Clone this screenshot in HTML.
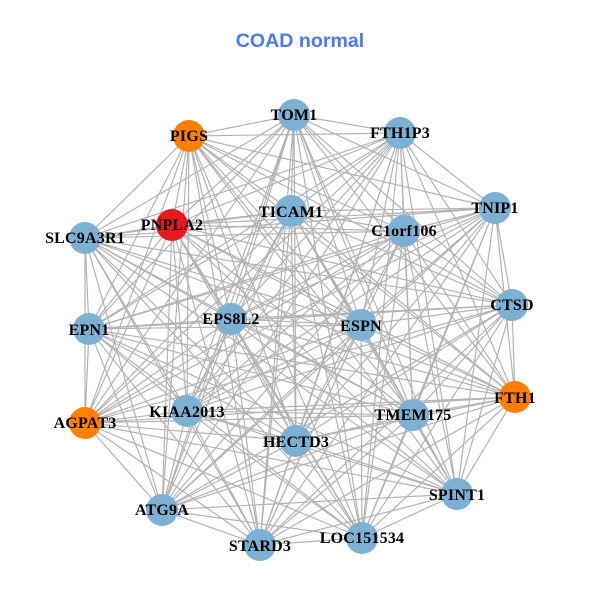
<!DOCTYPE html>
<html>
<head>
<meta charset="utf-8">
<style>
html,body{margin:0;padding:0;background:#fff;}
svg{display:block;}
.t{font-family:"Liberation Serif",serif;font-weight:bold;font-size:16px;letter-spacing:.2px;fill:#000;text-anchor:middle;}
.h{font-family:"Liberation Sans",sans-serif;font-weight:bold;font-size:19.6px;fill:#4c78f5;text-anchor:middle;}
</style>
</head>
<body>
<svg width="600" height="600" viewBox="0 0 600 600" xmlns="http://www.w3.org/2000/svg">
<rect width="600" height="600" fill="#fff"/>
<text class="h" x="300" y="47">COAD normal</text>
<g fill="none" stroke="#b3b3b3" stroke-width="1.2">
<polyline points="189,136 294,115 189,136 400,133 189,136 495,208 189,136 404,231 189,136 291,211 189,136 172,225 189,136 85,238 189,136 89,329 189,136 231,319 189,136 361,325 189,136 512,305 189,136 515,397 189,136 413,415 189,136 296,441 189,136 187,411 189,136 85,423 189,136 162,510 189,136 260,545 189,136 362,538 189,136 457,494"/>
<polyline points="294,115 400,133 294,115 495,208 294,115 404,231 294,115 291,211 294,115 172,225 294,115 85,238 294,115 89,329 294,115 231,319 294,115 361,325 294,115 512,305 294,115 515,397 294,115 413,415 294,115 296,441 294,115 187,411 294,115 85,423 294,115 162,510 294,115 260,545 294,115 362,538 294,115 457,494"/>
<polyline points="400,133 495,208 400,133 404,231 400,133 291,211 400,133 172,225 400,133 85,238 400,133 89,329 400,133 231,319 400,133 361,325 400,133 512,305 400,133 515,397 400,133 413,415 400,133 296,441 400,133 187,411 400,133 85,423 400,133 162,510 400,133 260,545 400,133 362,538 400,133 457,494"/>
<polyline points="495,208 404,231 495,208 291,211 495,208 172,225 495,208 85,238 495,208 89,329 495,208 231,319 495,208 361,325 495,208 512,305 495,208 515,397 495,208 413,415 495,208 296,441 495,208 187,411 495,208 85,423 495,208 162,510 495,208 260,545 495,208 362,538 495,208 457,494"/>
<polyline points="404,231 291,211 404,231 172,225 404,231 85,238 404,231 89,329 404,231 231,319 404,231 361,325 404,231 512,305 404,231 515,397 404,231 413,415 404,231 296,441 404,231 187,411 404,231 85,423 404,231 162,510 404,231 260,545 404,231 362,538 404,231 457,494"/>
<polyline points="291,211 172,225 291,211 85,238 291,211 89,329 291,211 231,319 291,211 361,325 291,211 512,305 291,211 515,397 291,211 413,415 291,211 296,441 291,211 187,411 291,211 85,423 291,211 162,510 291,211 260,545 291,211 362,538 291,211 457,494"/>
<polyline points="172,225 85,238 172,225 89,329 172,225 231,319 172,225 361,325 172,225 512,305 172,225 515,397 172,225 413,415 172,225 296,441 172,225 187,411 172,225 85,423 172,225 162,510 172,225 260,545 172,225 362,538 172,225 457,494"/>
<polyline points="85,238 89,329 85,238 231,319 85,238 361,325 85,238 512,305 85,238 515,397 85,238 413,415 85,238 296,441 85,238 187,411 85,238 85,423 85,238 162,510 85,238 260,545 85,238 362,538 85,238 457,494"/>
<polyline points="89,329 231,319 89,329 361,325 89,329 512,305 89,329 515,397 89,329 413,415 89,329 296,441 89,329 187,411 89,329 85,423 89,329 162,510 89,329 260,545 89,329 362,538 89,329 457,494"/>
<polyline points="231,319 361,325 231,319 512,305 231,319 515,397 231,319 413,415 231,319 296,441 231,319 187,411 231,319 85,423 231,319 162,510 231,319 260,545 231,319 362,538 231,319 457,494"/>
<polyline points="361,325 512,305 361,325 515,397 361,325 413,415 361,325 296,441 361,325 187,411 361,325 85,423 361,325 162,510 361,325 260,545 361,325 362,538 361,325 457,494"/>
<polyline points="512,305 515,397 512,305 413,415 512,305 296,441 512,305 187,411 512,305 85,423 512,305 162,510 512,305 260,545 512,305 362,538 512,305 457,494"/>
<polyline points="515,397 413,415 515,397 296,441 515,397 187,411 515,397 85,423 515,397 162,510 515,397 260,545 515,397 362,538 515,397 457,494"/>
<polyline points="413,415 296,441 413,415 187,411 413,415 85,423 413,415 162,510 413,415 260,545 413,415 362,538 413,415 457,494"/>
<polyline points="296,441 187,411 296,441 85,423 296,441 162,510 296,441 260,545 296,441 362,538 296,441 457,494"/>
<polyline points="187,411 85,423 187,411 162,510 187,411 260,545 187,411 362,538 187,411 457,494"/>
<polyline points="85,423 162,510 85,423 260,545 85,423 362,538 85,423 457,494"/>
<polyline points="162,510 260,545 162,510 362,538 162,510 457,494"/>
<polyline points="260,545 362,538 260,545 457,494"/>
<polyline points="362,538 457,494"/>
</g>
<g fill="#7eb0d4">
<circle cx="294" cy="115" r="16"/>
<circle cx="400" cy="133" r="16"/>
<circle cx="495" cy="208" r="16"/>
<circle cx="404" cy="231" r="16"/>
<circle cx="291" cy="211" r="16"/>
<circle cx="85" cy="238" r="16"/>
<circle cx="89" cy="329" r="16"/>
<circle cx="231" cy="319" r="16"/>
<circle cx="361" cy="325" r="16"/>
<circle cx="512" cy="305" r="16"/>
<circle cx="413" cy="415" r="16"/>
<circle cx="296" cy="441" r="16"/>
<circle cx="187" cy="411" r="16"/>
<circle cx="162" cy="510" r="16"/>
<circle cx="260" cy="545" r="16"/>
<circle cx="362" cy="538" r="16"/>
<circle cx="457" cy="494" r="16"/>
</g>
<g fill="#ff7f00">
<circle cx="189" cy="136" r="16"/>
<circle cx="515" cy="397" r="16"/>
<circle cx="85" cy="423" r="16"/>
</g>
<circle cx="172" cy="225" r="16" fill="#e41a1c"/>
<g>
<text class="t" x="189" y="141">PIGS</text>
<text class="t" x="294" y="120">TOM1</text>
<text class="t" x="400" y="138">FTH1P3</text>
<text class="t" x="495" y="213">TNIP1</text>
<text class="t" x="404" y="236">C1orf106</text>
<text class="t" x="291" y="217">TICAM1</text>
<text class="t" x="172" y="230">PNPLA2</text>
<text class="t" x="85" y="243">SLC9A3R1</text>
<text class="t" x="89" y="335">EPN1</text>
<text class="t" x="231" y="324">EPS8L2</text>
<text class="t" x="361" y="331">ESPN</text>
<text class="t" x="512" y="310">CTSD</text>
<text class="t" x="515" y="403">FTH1</text>
<text class="t" x="413" y="420">TMEM175</text>
<text class="t" x="296" y="447">HECTD3</text>
<text class="t" x="187" y="417">KIAA2013</text>
<text class="t" x="85" y="428">AGPAT3</text>
<text class="t" x="162" y="515">ATG9A</text>
<text class="t" x="260" y="551">STARD3</text>
<text class="t" x="362" y="543">LOC151534</text>
<text class="t" x="457" y="500">SPINT1</text>
</g>
</svg>
</body>
</html>
